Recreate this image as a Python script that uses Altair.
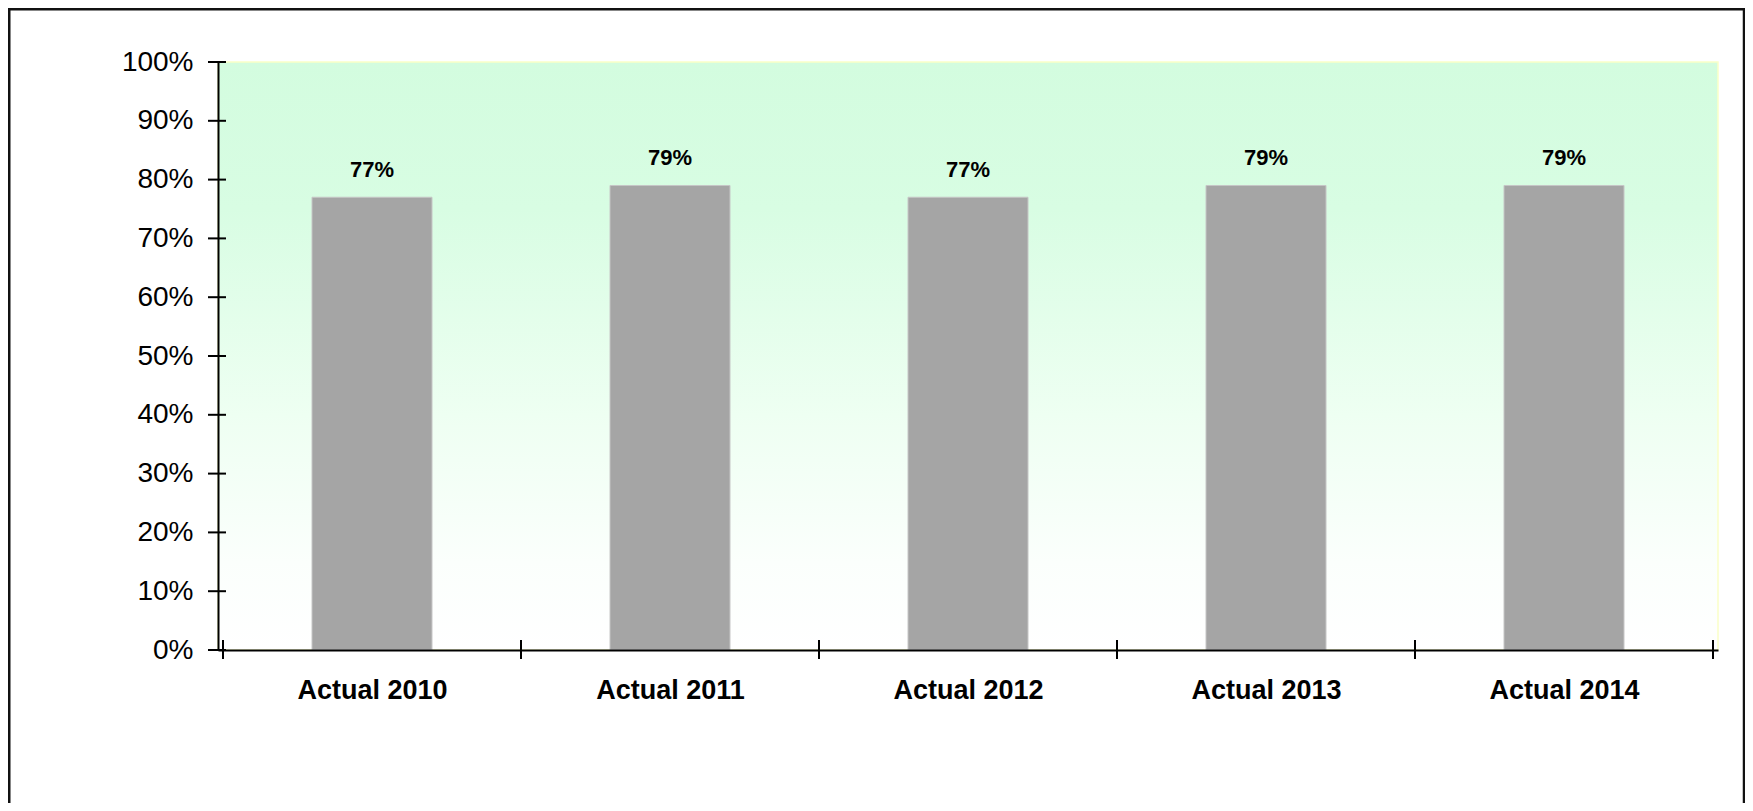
import altair as alt
import pandas as pd

# ---- data ----
categories = ["Actual 2010", "Actual 2011", "Actual 2012", "Actual 2013", "Actual 2014"]
values = [0.77, 0.79, 0.77, 0.79, 0.79]
y_ticks = [0.0, 0.1, 0.2, 0.3, 0.4, 0.5, 0.6, 0.7, 0.8, 0.9, 1.0]
x_bounds = [0, 1, 2, 3, 4, 5]

positions = [i + 0.5 for i in range(len(categories))]
df = pd.DataFrame({"cat": categories, "pos": positions, "val": values})

W, H = 1500, 588
FONT = "Liberation Sans Narrow, Arial Narrow, Liberation Sans, Arial"

xscale = alt.Scale(domain=[0, len(categories)], nice=False, zero=False)
yscale = alt.Scale(domain=[0, 1], nice=False)

label_expr = "[" + ",".join("'" + c + "'" for c in categories) + "][floor(datum.value)]"

x_axis = alt.Axis(
    values=positions, labelExpr=label_expr, ticks=False, grid=False, title=None,
    domain=True, domainColor="#000000", domainWidth=2,
    labelFont=FONT, labelFontSize=27, labelFontWeight="bold", labelColor="#000000",
    labelPadding=27, zindex=1)
y_axis = alt.Axis(
    values=y_ticks, format=".0%", ticks=False, tickSize=0, grid=False, title=None,
    domain=True, domainColor="#000000", domainWidth=2,
    labelFont=FONT, labelFontSize=28, labelColor="#000000",
    labelPadding=25, zindex=1)

gradient = alt.Gradient(
    gradient="linear", x1=0, y1=0, x2=0, y2=1,
    stops=[
        alt.GradientStop(offset=0.0, color="#D3FCDF"),
        alt.GradientStop(offset=0.25, color="#D8FDE3"),
        alt.GradientStop(offset=0.6, color="#EEFFF2"),
        alt.GradientStop(offset=0.85, color="#FBFFFC"),
        alt.GradientStop(offset=1.0, color="#FFFFFF"),
    ],
)

one = pd.DataFrame({"a": [0]})

bg = alt.Chart(one).mark_rect(fill=gradient, stroke="#FAFFC8", strokeWidth=1.5).encode(
    x=alt.value(0), x2=alt.value(W), y=alt.value(0), y2=alt.value(H)
)

bars = alt.Chart(df).mark_bar(size=120, orient="vertical", color="#A5A5A5",
                              stroke="#C6C6C6", strokeWidth=1).encode(
    x=alt.X("pos:Q", scale=xscale, axis=x_axis),
    y=alt.Y("val:Q", scale=yscale, axis=y_axis),
)

texts = alt.Chart(df).mark_text(dy=-20, baseline="alphabetic", fontSize=22, fontWeight="bold",
                                font=FONT, color="#000000").encode(
    x=alt.X("pos:Q", scale=xscale, axis=x_axis),
    y=alt.Y("val:Q", scale=yscale, axis=y_axis),
    text=alt.Text("val:Q", format=".0%"),
)

ytick_rules = alt.Chart(pd.DataFrame({"pos": [0.0] * len(y_ticks), "val": y_ticks})).mark_rule(
    color="#000000", strokeWidth=2).encode(
    y=alt.Y("val:Q", scale=yscale, axis=y_axis),
    x=alt.value(-10), x2=alt.value(8),
)

xtick_rules = alt.Chart(pd.DataFrame({"pos": x_bounds})).mark_rule(
    color="#000000", strokeWidth=2).encode(
    x=alt.X("pos:Q", scale=xscale, axis=x_axis),
    y=alt.value(H - 10), y2=alt.value(H + 9),
)

border = alt.Chart(one).mark_rect(filled=False, color="#111111", strokeWidth=2.5).encode(
    x=alt.value(-208.75), x2=alt.value(1526), y=alt.value(-52.75), y2=alt.value(900)
)

chart = alt.layer(bg, bars, texts, ytick_rules, xtick_rules, border).properties(
    width=W, height=H,
    autosize=alt.AutoSizeParams(type="none"),
    padding={"left": 210, "top": 54, "right": 27, "bottom": 153},
).configure_view(stroke=None)

chart.save("out.html", embed_options={"renderer": "svg", "actions": False})
